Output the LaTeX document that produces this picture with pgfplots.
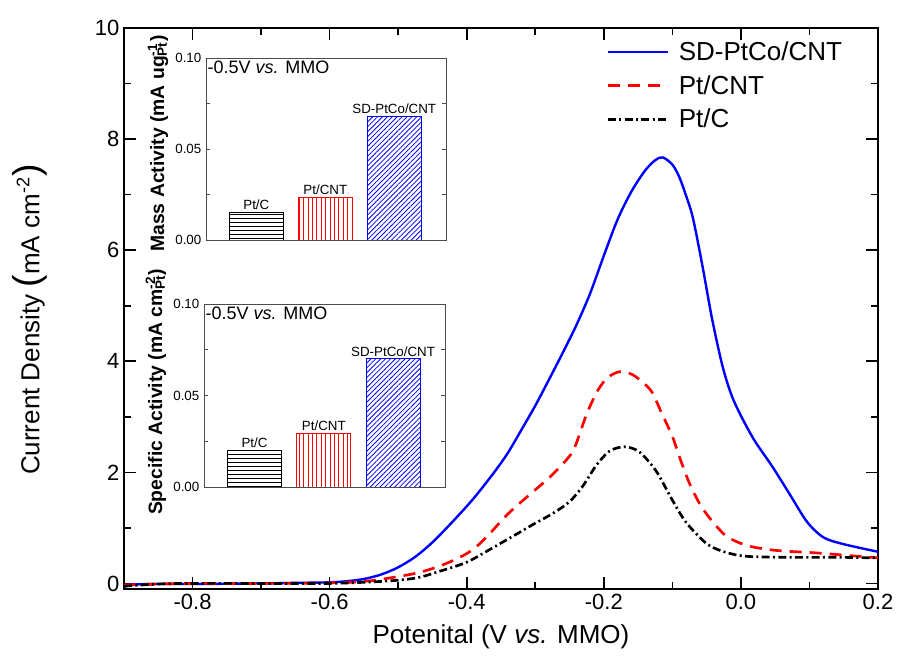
\documentclass[border=0pt]{standalone}
\usepackage{fontspec}
\setmainfont{Liberation Sans}
\usepackage{pgfplots}
\pgfplotsset{compat=1.18}
\usetikzlibrary{patterns,patterns.meta}
\definecolor{cblue}{RGB}{0,0,255}
\definecolor{cred}{RGB}{255,0,0}
\begin{document}
\begin{tikzpicture}
\useasboundingbox (-93pt,-57.75pt) rectangle (579.75pt,441.75pt);
\begin{axis}[
 at={(0pt,0pt)}, anchor=south west,
 scale only axis, width=565.5pt, height=420.75pt,
 xmin=-0.9, xmax=0.2, ymin=-0.1, ymax=10,
 xtick={-0.8,-0.6,-0.4,-0.2,0,0.2},
 minor xtick={-0.9,-0.7,-0.5,-0.3,-0.1,0.1},
 ytick={0,2,4,6,8,10}, minor ytick={1,3,5,7,9},
 tick align=inside, major tick length=9pt, minor tick length=5pt,
 axis line style={line width=1.6pt},
 tick style={line width=1.2pt, black},
 /pgf/number format/assume math mode=true,
 xticklabel style={/pgf/number format/.cd, fixed, fixed zerofill, precision=1},
 tick label style={font=\fontsize{16.5}{19}\selectfont},
 xlabel={Potenital (V \textit{vs.} MMO)},
 ylabel={Current Density {\fontsize{28}{28}\selectfont(}mA cm\textsuperscript{-2}{\fontsize{28}{28}\selectfont)}},
 xlabel style={at={(axis description cs:0.5,-0.0856)}, anchor=center, font=\fontsize{19.5}{22}\selectfont},
 ylabel style={at={(axis description cs:-0.125,0.48)}, anchor=center, font=\fontsize{19.5}{22}\selectfont},
 legend style={draw=none, fill=none, at={(0.64,0.981)}, anchor=north west,
   font=\fontsize{19.5}{22}\selectfont, legend cell align=left,
   row sep=5.6pt, inner sep=0pt,
   /tikz/every odd column/.append style={column sep=5pt}},
 legend image code/.code={\draw[#1] (0pt,0pt) -- (45pt,0pt);},
]
\addplot[cblue, line width=1.8pt, smooth] coordinates {
(-0.9,-0.08) (-0.897,-0.04) (-0.89,-0.02) (-0.85,-0.01) (-0.8,-0.01) (-0.7,0.0) (-0.65,0.01) (-0.6,0.02) (-0.575,0.04) (-0.55,0.08) (-0.525,0.16) (-0.5,0.29) (-0.475,0.48) (-0.45,0.74) (-0.42,1.12) (-0.39,1.53) (-0.36,2.00) (-0.34,2.35) (-0.32,2.77) (-0.30,3.20) (-0.28,3.67) (-0.26,4.15) (-0.24,4.65) (-0.22,5.22) (-0.20,5.90) (-0.18,6.55) (-0.16,7.05) (-0.14,7.43) (-0.125,7.62) (-0.114,7.67) (-0.10,7.54) (-0.09,7.32) (-0.08,6.98) (-0.07,6.58) (-0.056,5.71) (-0.042,4.76) (-0.027,3.92) (-0.014,3.40) (0.0,3.02) (0.02,2.57) (0.045,2.12) (0.07,1.63) (0.094,1.15) (0.11,0.93) (0.125,0.80) (0.152,0.70) (0.2,0.57)};
\addlegendentry{SD-PtCo/CNT}
\addplot[cred, line width=2pt, dash pattern=on 9pt off 6pt, smooth] coordinates {
(-0.9,-0.03) (-0.85,-0.01) (-0.8,0.0) (-0.7,0.0) (-0.6,0.01) (-0.546,0.04) (-0.497,0.13) (-0.4687,0.20) (-0.44,0.31) (-0.41,0.47) (-0.39,0.62) (-0.37,0.85) (-0.34,1.25) (-0.31,1.58) (-0.28,1.90) (-0.26,2.15) (-0.245,2.38) (-0.235,2.70) (-0.225,3.05) (-0.21,3.45) (-0.195,3.70) (-0.1775,3.81) (-0.16,3.77) (-0.145,3.64) (-0.13,3.45) (-0.115,3.05) (-0.10,2.65) (-0.09,2.29) (-0.075,1.80) (-0.06,1.43) (-0.05,1.25) (-0.035,1.02) (-0.02,0.84) (0.0,0.72) (0.02,0.65) (0.055,0.59) (0.11,0.55) (0.16,0.50) (0.2,0.46)};
\addlegendentry{Pt/CNT}
\addplot[black, line width=2pt, dash pattern=on 6pt off 2.5pt on 1.5pt off 2.5pt, smooth] coordinates {
(-0.9,-0.05) (-0.85,-0.01) (-0.8,0.0) (-0.7,0.0) (-0.6,0.0) (-0.52,0.04) (-0.473,0.10) (-0.4393,0.22) (-0.4004,0.38) (-0.3665,0.61) (-0.3326,0.85) (-0.3035,1.06) (-0.2745,1.26) (-0.2502,1.47) (-0.2308,1.75) (-0.2113,2.12) (-0.192,2.38) (-0.170,2.46) (-0.1484,2.37) (-0.124,2.03) (-0.1,1.50) (-0.08,1.10) (-0.0513,0.73) (-0.0272,0.58) (0.0068,0.49) (0.0698,0.47) (0.1425,0.47) (0.2,0.46)};
\addlegendentry{Pt/C}
\end{axis}

% Inset 1: mass activity
\begin{axis}[
 at={(61.5pt,261.75pt)}, anchor=south west,
 scale only axis, width=180pt, height=136.5pt,
 xmin=-0.73, xmax=2.75, ymin=0, ymax=0.1,
 xtick=\empty,
 ytick={0,0.05,0.1}, minor ytick={0.025,0.075},
 tick align=inside, major tick length=3pt, minor tick length=3pt,
 axis line style={draw=black!70, line width=0.6pt},
 tick style={black!70, line width=0.5pt},
 /pgf/number format/assume math mode=true,
 yticklabel style={/pgf/number format/.cd, fixed, fixed zerofill, precision=2},
 tick label style={font=\fontsize{10}{12}\selectfont},
 ylabel={Mass Activity (mA ug\rlap{\textsuperscript{-1}}\textsubscript{Pt})},
 ylabel style={at={(axis description cs:-0.2,0.53)}, anchor=center, font=\fontsize{14.5}{16}\selectfont\bfseries},
 ybar, bar width=0.78,
 nodes near coords, point meta=explicit symbolic,
 nodes near coords style={font=\fontsize{10}{12}\selectfont, anchor=south, inner sep=1.5pt, black},
]
\addplot[bar shift=0pt, draw=black, line width=0.6pt, pattern={Lines[angle=0, distance=3pt, line width=0.6pt]}, pattern color=black] coordinates {(0,0.0154)[Pt/C]};
\addplot[bar shift=0pt, draw=cred, line width=0.6pt, pattern={Lines[angle=90, distance=3.3pt, line width=0.6pt]}, pattern color=cred] coordinates {(1,0.0236)[Pt/CNT]};
\addplot[bar shift=0pt, draw=cblue, line width=0.6pt, pattern={Lines[angle=45, distance=2.6pt, line width=0.6pt]}, pattern color=cblue] coordinates {(2,0.0681)[SD-PtCo/CNT]};
\node[anchor=north west, inner sep=1pt, font=\fontsize{13.5}{15}\selectfont] at (rel axis cs:0,0.99) {-0.5V \textit{vs.} MMO};
\end{axis}

% Inset 2: specific activity
\begin{axis}[
 at={(60pt,76.5pt)}, anchor=south west,
 scale only axis, width=180.75pt, height=137.25pt,
 xmin=-0.73, xmax=2.75, ymin=0, ymax=0.1,
 xtick=\empty,
 ytick={0,0.05,0.1}, minor ytick={0.025,0.075},
 tick align=inside, major tick length=3pt, minor tick length=3pt,
 axis line style={draw=black!70, line width=0.6pt},
 tick style={black!70, line width=0.5pt},
 /pgf/number format/assume math mode=true,
 yticklabel style={/pgf/number format/.cd, fixed, fixed zerofill, precision=2},
 tick label style={font=\fontsize{10}{12}\selectfont},
 ylabel={Specific Activity (mA cm\rlap{\textsuperscript{-2}}\textsubscript{Pt})},
 ylabel style={at={(axis description cs:-0.2,0.52)}, anchor=center, font=\fontsize{14.5}{16}\selectfont\bfseries},
 ybar, bar width=0.78,
 nodes near coords, point meta=explicit symbolic,
 nodes near coords style={font=\fontsize{10}{12}\selectfont, anchor=south, inner sep=1.5pt, black},
]
\addplot[bar shift=0pt, draw=black, line width=0.6pt, pattern={Lines[angle=0, distance=3pt, line width=0.6pt]}, pattern color=black] coordinates {(0,0.0202)[Pt/C]};
\addplot[bar shift=0pt, draw=cred, line width=0.6pt, pattern={Lines[angle=90, distance=3.3pt, line width=0.6pt]}, pattern color=cred] coordinates {(1,0.0295)[Pt/CNT]};
\addplot[bar shift=0pt, draw=cblue, line width=0.6pt, pattern={Lines[angle=45, distance=2.6pt, line width=0.6pt]}, pattern color=cblue] coordinates {(2,0.0700)[SD-PtCo/CNT]};
\node[anchor=north west, inner sep=1pt, font=\fontsize{13.5}{15}\selectfont] at (rel axis cs:0,0.99) {-0.5V \textit{vs.} MMO};
\end{axis}
\end{tikzpicture}
\end{document}
